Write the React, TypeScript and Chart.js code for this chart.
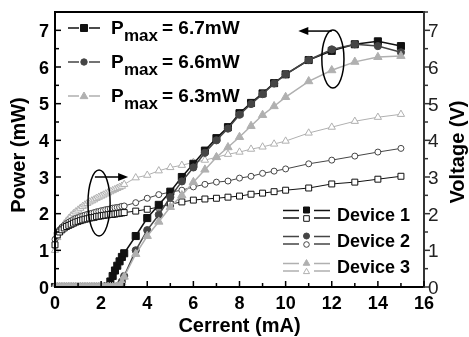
import React, { useEffect, useRef } from "react";
import { Chart, registerables } from "chart.js";

Chart.register(...registerables);

// Current (mA)
const current = [
  0, 0.1, 0.2, 0.3, 0.4, 0.5, 0.6, 0.7, 0.8, 0.9,
  1.0, 1.1, 1.2, 1.3, 1.4, 1.5, 1.6, 1.7, 1.8, 1.9,
  2.0, 2.1, 2.2, 2.3, 2.4, 2.5, 2.6, 2.7, 2.8, 2.9, 3.0,
  3.5, 4, 4.5, 5, 5.5, 6, 6.5, 7, 7.5, 8, 8.5, 9, 9.5, 10,
  11, 12, 13, 14, 15,
];

// Power (mW)
const power1 = [
  0, 0, 0, 0, 0, 0, 0, 0, 0, 0,
  0, 0, 0, 0, 0, 0, 0, 0, 0, 0,
  0, 0, 0, 0.02, 0.15, 0.3, 0.45, 0.58, 0.7, 0.82, 0.92,
  1.39, 1.88, 2.24, 2.6, 3.0, 3.36, 3.72, 4.06, 4.36, 4.74, 5.02, 5.28, 5.56, 5.8,
  6.19, 6.44, 6.62, 6.7, 6.57,
];
const power2 = [
  0, 0, 0, 0, 0, 0, 0, 0, 0, 0,
  0, 0, 0, 0, 0, 0, 0, 0, 0, 0,
  0, 0, 0, 0, 0, 0, 0, 0, 0.05, 0.15, 0.3,
  1.0, 1.55, 1.97, 2.45, 2.88, 3.26, 3.66, 4.0, 4.32, 4.7, 4.99, 5.26, 5.55, 5.8,
  6.19, 6.48, 6.62, 6.57, 6.4,
];
const power3 = [
  0, 0, 0, 0, 0, 0, 0, 0, 0, 0,
  0, 0, 0, 0, 0, 0, 0, 0, 0, 0,
  0, 0, 0, 0, 0, 0, 0, 0, 0.03, 0.12, 0.28,
  0.9, 1.39, 1.78, 2.18, 2.5, 2.86, 3.2, 3.54, 3.81, 4.09, 4.39, 4.69, 4.93, 5.18,
  5.61, 5.91, 6.14, 6.27, 6.3,
];

// Voltage (V)
const voltage1 = [
  1.15, 1.42, 1.5, 1.56, 1.61, 1.65, 1.68, 1.71, 1.74, 1.77,
  1.79, 1.81, 1.83, 1.85, 1.86, 1.88, 1.89, 1.9, 1.92, 1.93,
  1.94, 1.95, 1.96, 1.97, 1.98, 1.98, 1.99, 2.0, 2.01, 2.02, 2.03,
  2.07, 2.12, 2.18, 2.26, 2.32, 2.37, 2.4, 2.42, 2.45, 2.48, 2.53, 2.56, 2.6, 2.64,
  2.7, 2.81, 2.86, 2.94, 3.02,
];
const voltage2 = [
  1.3, 1.47, 1.56, 1.63, 1.68, 1.73, 1.77, 1.8, 1.84, 1.87,
  1.89, 1.92, 1.94, 1.96, 1.98, 2.0, 2.01, 2.03, 2.05, 2.06,
  2.08, 2.09, 2.11, 2.12, 2.13, 2.15, 2.16, 2.17, 2.18, 2.2, 2.21,
  2.3, 2.42, 2.52, 2.59, 2.64, 2.73, 2.8, 2.86, 2.89, 2.97, 3.02, 3.1, 3.16, 3.22,
  3.36, 3.46, 3.57, 3.68, 3.78,
];
const voltage3 = [
  1.0, 1.35, 1.5, 1.62, 1.72, 1.8, 1.87, 1.94, 2.0, 2.05,
  2.1, 2.15, 2.2, 2.24, 2.28, 2.32, 2.35, 2.38, 2.42, 2.45,
  2.48, 2.51, 2.54, 2.57, 2.6, 2.63, 2.66, 2.69, 2.72, 2.75, 2.8,
  2.98, 3.05, 3.17, 3.26, 3.32, 3.4, 3.46, 3.54, 3.62, 3.68, 3.76, 3.82, 3.9, 3.98,
  4.2, 4.36, 4.52, 4.63, 4.71,
];

const xTickLabels = [0, 2, 4, 6, 8, 10, 12, 14, 16];
const yTickLabels = [0, 1, 2, 3, 4, 5, 6, 7];
const pmaxLabels = ["6.7mW", "6.6mW", "6.3mW"];
const deviceLabels = ["Device 1", "Device 2", "Device 3"];

const COLORS = ["#111111", "#454545", "#b0b0b0"];
const STYLES = ["rect", "circle", "triangle"];
const FONT = "'Liberation Sans', Arial, Helvetica, sans-serif";

function drawMarker(ctx: CanvasRenderingContext2D, style: string, x: number, y: number, r: number, fill: string, stroke: string) {
  ctx.beginPath();
  if (style === "rect") {
    ctx.rect(x - r, y - r, 2 * r, 2 * r);
  } else if (style === "circle") {
    ctx.arc(x, y, r, 0, Math.PI * 2);
  } else {
    ctx.moveTo(x, y - r * 1.15);
    ctx.lineTo(x + r * 1.1, y + r * 0.75);
    ctx.lineTo(x - r * 1.1, y + r * 0.75);
    ctx.closePath();
  }
  ctx.fillStyle = fill;
  ctx.fill();
  ctx.strokeStyle = stroke;
  ctx.lineWidth = 1;
  ctx.stroke();
}

function arrow(ctx: CanvasRenderingContext2D, x1: number, y1: number, x2: number, y2: number) {
  const dir = Math.sign(x2 - x1);
  ctx.beginPath();
  ctx.moveTo(x1, y1);
  ctx.lineTo(x2 - dir * 8, y2);
  ctx.lineWidth = 1.5;
  ctx.strokeStyle = "#000";
  ctx.stroke();
  ctx.beginPath();
  ctx.moveTo(x2, y2);
  ctx.lineTo(x2 - dir * 10, y2 - 4);
  ctx.lineTo(x2 - dir * 10, y2 + 4);
  ctx.closePath();
  ctx.fillStyle = "#000";
  ctx.fill();
}

const decorPlugin = {
  id: "decor",
  afterDraw(chart: any) {
    const { ctx, chartArea: a, scales } = chart;
    const sx = scales.x;
    const sy = scales.y;
    const sy1 = scales.y1;
    ctx.save();

    // frame
    ctx.lineCap = "square";
    ctx.lineWidth = 2;
    ctx.strokeStyle = "#000";
    ctx.beginPath();
    ctx.moveTo(a.right, a.top);
    ctx.lineTo(a.left, a.top);
    ctx.lineTo(a.left, a.bottom);
    ctx.lineTo(a.right, a.bottom);
    ctx.stroke();
    ctx.strokeStyle = "#333";
    ctx.beginPath();
    ctx.moveTo(a.right, a.top);
    ctx.lineTo(a.right, a.bottom);
    ctx.stroke();
    ctx.lineCap = "butt";

    // x ticks (inward)
    ctx.strokeStyle = "#000";
    ctx.lineWidth = 1.5;
    for (let v = 0; v <= 16; v += 1) {
      const px = sx.getPixelForValue(v);
      const len = v % 2 === 0 ? 6 : 4;
      ctx.beginPath();
      ctx.moveTo(px, a.bottom);
      ctx.lineTo(px, a.bottom - len);
      ctx.stroke();
    }
    // left y ticks (inward)
    for (let v = 0; v <= 7.5; v += 0.5) {
      const py = sy.getPixelForValue(v);
      const len = v % 1 === 0 ? 6 : 4;
      ctx.beginPath();
      ctx.moveTo(a.left, py);
      ctx.lineTo(a.left + len, py);
      ctx.stroke();
    }
    // right y ticks (outward)
    ctx.strokeStyle = "#333";
    for (let v = 0; v <= 7.5; v += 0.5) {
      const py = sy1.getPixelForValue(v);
      const len = v % 1 === 0 ? 6 : 4;
      ctx.beginPath();
      ctx.moveTo(a.right, py);
      ctx.lineTo(a.right + len, py);
      ctx.stroke();
    }

    // tick labels
    ctx.fillStyle = "#000";
    ctx.font = `bold 18px ${FONT}`;
    ctx.textAlign = "center";
    ctx.textBaseline = "alphabetic";
    xTickLabels.forEach((v) => {
      ctx.fillText(String(v), sx.getPixelForValue(v), 309);
    });
    ctx.textAlign = "right";
    yTickLabels.forEach((v) => {
      ctx.fillText(String(v), a.left - 6, sy.getPixelForValue(v) + 6.5);
    });
    ctx.font = `19px ${FONT}`;
    ctx.textAlign = "left";
    ctx.fillStyle = "#222";
    yTickLabels.forEach((v) => {
      ctx.fillText(String(v), a.right + 4, sy1.getPixelForValue(v) + 7);
    });

    // axis titles
    ctx.fillStyle = "#000";
    ctx.font = `bold 20px ${FONT}`;
    ctx.textAlign = "center";
    ctx.fillText("Cerrent (mA)", (a.left + a.right) / 2, 332);
    ctx.textBaseline = "middle";
    ctx.save();
    ctx.translate(19, 155);
    ctx.rotate(-Math.PI / 2);
    ctx.fillText("Power (mW)", 0, 0);
    ctx.restore();
    ctx.save();
    ctx.translate(458, 152);
    ctx.rotate(-Math.PI / 2);
    ctx.fillText("Voltage (V)", 0, 0);
    ctx.restore();
    ctx.textBaseline = "alphabetic";

    // Pmax legend
    const rowBase = [34, 68, 102];
    for (let i = 0; i < 3; i++) {
      const b = rowBase[i];
      const ly = b - 6;
      ctx.strokeStyle = COLORS[i];
      ctx.lineWidth = 1.5;
      ctx.beginPath();
      ctx.moveTo(68, ly);
      ctx.lineTo(79, ly);
      ctx.moveTo(89, ly);
      ctx.lineTo(100, ly);
      ctx.stroke();
      drawMarker(ctx, STYLES[i], 84, ly, i === 1 ? 3.2 : 3.5, COLORS[i], COLORS[i]);
      ctx.fillStyle = "#000";
      ctx.textAlign = "left";
      ctx.font = `bold 19px ${FONT}`;
      ctx.fillText("P", 111, b);
      ctx.font = `bold 17px ${FONT}`;
      ctx.fillText("max", 124, b + 7);
      ctx.font = `bold 19px ${FONT}`;
      ctx.fillText("= " + pmaxLabels[i], 162, b);
    }

    // Device legend
    const devC = [214, 240, 267];
    const devBase = [221, 247, 273];
    for (let i = 0; i < 3; i++) {
      const c = devC[i];
      ctx.strokeStyle = COLORS[i];
      ctx.lineWidth = 1.5;
      ctx.beginPath();
      ctx.moveTo(283, c - 3.5);
      ctx.lineTo(299, c - 3.5);
      ctx.moveTo(283, c + 4);
      ctx.lineTo(299, c + 4);
      ctx.moveTo(314, c - 3.5);
      ctx.lineTo(330, c - 3.5);
      ctx.moveTo(314, c + 4);
      ctx.lineTo(330, c + 4);
      ctx.stroke();
      drawMarker(ctx, STYLES[i], 306.5, c - 4, 3, COLORS[i], COLORS[i]);
      drawMarker(ctx, STYLES[i], 306.5, c + 4.5, 2.8, "#fff", COLORS[i]);
      ctx.fillStyle = "#000";
      ctx.font = `bold 18px ${FONT}`;
      ctx.textAlign = "left";
      ctx.fillText(deviceLabels[i], 337, devBase[i]);
    }

    // ellipses + arrows
    ctx.strokeStyle = "#000";
    ctx.lineWidth = 1.5;
    const e1x = sx.getPixelForValue(12.05);
    const e1y = sy.getPixelForValue(6.22);
    const e1rx = sx.getPixelForValue(12.05 + 0.48) - e1x;
    const e1ry = e1y - sy.getPixelForValue(6.22 + 0.79);
    ctx.beginPath();
    ctx.ellipse(e1x, e1y, e1rx, e1ry, 0, 0, Math.PI * 2);
    ctx.stroke();
    arrow(ctx, sx.getPixelForValue(12.0), sy.getPixelForValue(6.98), sx.getPixelForValue(10.55), sy.getPixelForValue(6.98));

    const e2x = sx.getPixelForValue(1.91);
    const e2y = sy1.getPixelForValue(2.29);
    const e2rx = sx.getPixelForValue(1.91 + 0.48) - e2x;
    const e2ry = e2y - sy1.getPixelForValue(2.29 + 0.9);
    ctx.strokeStyle = "#000";
    ctx.lineWidth = 1.5;
    ctx.beginPath();
    ctx.ellipse(e2x, e2y, e2rx, e2ry, 0, 0, Math.PI * 2);
    ctx.stroke();
    arrow(ctx, sx.getPixelForValue(1.73), sy1.getPixelForValue(3.0), sx.getPixelForValue(3.17), sy1.getPixelForValue(3.0));

    ctx.restore();
  },
};

function makeSet(label: string, values: number[], axis: string, idx: number, hollow: boolean, order: number) {
  const color = COLORS[idx];
  const style = STYLES[idx];
  const radius = hollow
    ? (style === "rect" ? 4.2 : style === "circle" ? 3 : 4.2)
    : (style === "rect" ? 5 : style === "circle" ? 3.6 : 4.8);
  return {
    label,
    data: current.map((c, i) => ({ x: c, y: values[i] })),
    yAxisID: axis,
    borderColor: color,
    backgroundColor: color,
    borderWidth: hollow ? 1 : 1.5,
    pointStyle: style,
    pointRadius: radius,
    pointBackgroundColor: hollow ? "#ffffff" : color,
    pointBorderColor: color,
    pointBorderWidth: 1,
    tension: 0,
    order,
    clip: { left: 6, top: 6, right: 6, bottom: 0 },
  };
}

export default function App() {
  const canvasRef = useRef<HTMLCanvasElement | null>(null);

  useEffect(() => {
    const canvas = canvasRef.current;
    if (!canvas) return;
    const chart = new Chart(canvas, {
      type: "line",
      data: {
        datasets: [
          makeSet("P1", power1, "y", 0, false, 2),
          makeSet("P2", power2, "y", 1, false, 1),
          makeSet("P3", power3, "y", 2, false, 0),
          makeSet("V1", voltage1, "y1", 0, true, 3),
          makeSet("V2", voltage2, "y1", 1, true, 4),
          makeSet("V3", voltage3, "y1", 2, true, 5),
        ] as any,
      },
      options: {
        responsive: false,
        animation: false,
        devicePixelRatio: 1,
        layout: { padding: { left: 55, right: 45, top: 12, bottom: 50 } },
        plugins: { legend: { display: false }, tooltip: { enabled: false } },
        scales: {
          x: { type: "linear", min: 0, max: 16, display: false },
          y: { type: "linear", min: 0, max: 7.5, display: false, position: "left" },
          y1: { type: "linear", min: 0, max: 7.5, display: false, position: "right" },
        },
      } as any,
      plugins: [decorPlugin],
    });
    return () => chart.destroy();
  }, []);

  return (
    <div style={{ position: "absolute", left: 0, top: 0, width: 469, height: 337, background: "#fff" }}>
      <canvas ref={canvasRef} width={469} height={337} />
    </div>
  );
}
